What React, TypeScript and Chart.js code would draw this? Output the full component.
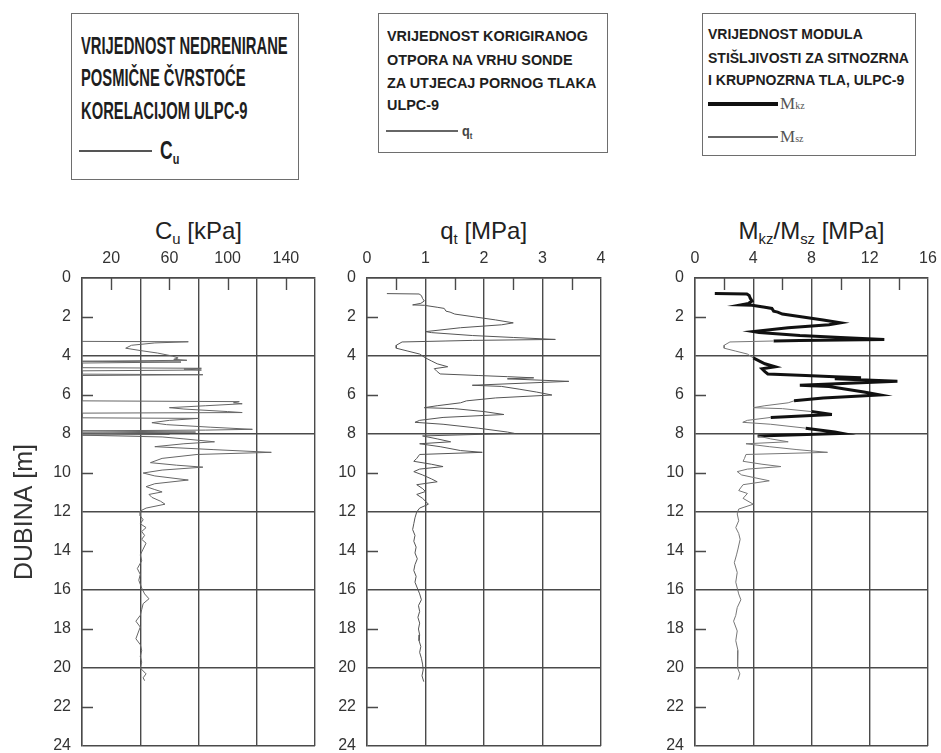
import React, { useEffect, useRef } from "react";
import { Chart, registerables } from "chart.js";

Chart.register(...registerables);

// ---------- DATA ----------
const depthLabels = [0, 2, 4, 6, 8, 10, 12, 14, 16, 18, 20, 22, 24];
const cuTickLabels = [20, 60, 100, 140];
const qtTickLabels = [0, 1, 2, 3, 4];
const mTickLabels = [0, 4, 8, 12, 16];

const cuDepth = [
  3.25, 3.27, 3.33, 3.45, 3.6, 3.72, 3.85, 4.0, 4.1, 4.17, 4.22, 4.27, 4.31, 4.36, 4.6, 4.63, 4.67, 4.72, 4.76,
  4.93, 4.96, 5.0, 6.3, 6.34, 6.4, 6.45, 6.55, 6.65, 6.72, 6.85, 6.9, 6.93, 7.17, 7.2, 7.3, 7.42, 7.52, 7.65,
  7.76, 7.8, 7.84, 7.9, 7.95, 8.02, 8.06, 8.15, 8.25, 8.4, 8.5, 8.65, 8.8, 8.94, 9.05, 9.25, 9.47, 9.6, 9.7,
  9.85, 10.0, 10.15, 10.36, 10.55, 10.7, 10.85, 10.97, 11.1, 11.25, 11.45, 11.6, 11.8, 11.95, 12.2, 12.4, 12.6,
  12.8, 13.0, 13.2, 13.4, 13.6, 13.9, 14.2, 14.5, 14.9, 15.2, 15.5, 15.9, 16.2, 16.45, 16.7, 17.0, 17.3, 17.6,
  17.9, 18.1, 18.5, 18.8, 19.1, 19.4, 19.7, 20.0, 20.3, 20.5, 20.65,
];
const cuValue = [
  0, 73, 50, 34, 30, 40, 52, 62, 66, 63, 72, 0, 68, 0, 0, 82, 70, 82, 0,
  0, 83, 0, 0, 108, 104, 110, 85, 60, 70, 100, 110, 0, 0, 80, 60, 48, 58, 88,
  117, 85, 0, 78, 0, 60, 0, 55, 70, 91, 70, 50, 90, 130, 79, 55, 47, 65, 83,
  55, 42, 50, 73, 50, 44, 50, 55, 46, 48, 54, 57, 44, 40, 40, 42, 40,
  44, 41, 43, 41, 44, 42, 40, 41, 38, 40, 39, 41, 43, 46, 42, 41, 40, 37,
  40, 39, 37, 40, 41, 40, 41, 40, 44, 42, 43,
];

const qtDepth = [
  0.8, 0.82, 0.9, 1.05, 1.18, 1.3, 1.38, 1.4, 1.5, 1.56, 1.7, 1.75, 1.85, 2.0, 2.15, 2.3, 2.4, 2.55, 2.75, 2.8,
  2.95, 3.05, 3.15, 3.2, 3.23, 3.28, 3.45, 3.6, 3.75, 3.9, 4.1, 4.25, 4.4, 4.55, 4.65, 4.8, 4.92, 5.0, 5.06,
  5.12, 5.17, 5.3, 5.5, 5.56, 5.7, 5.85, 6.0, 6.15, 6.3, 6.4, 6.55, 6.65, 6.7, 6.85, 7.0, 7.15, 7.3, 7.4, 7.5,
  7.7, 7.9, 7.97, 8.1, 8.25, 8.4, 8.5, 8.65, 8.85, 8.94, 9.05, 9.25, 9.4, 9.55, 9.67, 9.8, 9.93, 10.1, 10.3,
  10.45, 10.6, 10.8, 10.95, 11.1, 11.3, 11.45, 11.6, 11.8, 12.0, 12.3, 12.6, 12.9, 13.2, 13.5, 13.8, 14.1, 14.4,
  14.7, 15.0, 15.3, 15.6, 15.9, 16.2, 16.5, 16.8, 17.1, 17.4, 17.7, 18.0, 18.3, 18.6, 18.9, 19.2, 19.5, 19.8,
  20.1, 20.4, 20.7,
];
const qtValue = [
  0.34, 0.89, 0.93, 0.95, 0.98, 0.92, 0.78, 0.98, 1.2, 1.32, 1.35, 1.42, 1.5, 1.85, 2.2, 2.5, 2.3, 1.6, 1.0, 1.1,
  1.8, 2.5, 3.22, 1.8, 1.35, 0.6, 0.5, 0.5, 0.7, 0.9, 1.0, 1.1, 1.2, 1.38, 1.15, 1.2, 1.25, 1.9, 2.4,
  2.85, 2.4, 3.45, 1.8, 2.3, 2.6, 2.9, 3.16, 2.2, 1.7, 1.6, 1.2, 0.98, 1.5, 2.0, 2.34, 1.3, 0.9, 0.82, 1.3,
  1.9, 2.4, 2.52, 0.95, 1.2, 1.43, 0.9, 1.25, 1.6, 1.97, 0.9, 0.85, 0.8, 1.1, 1.3, 0.9, 0.8, 0.95, 1.1,
  1.2, 0.85, 0.95, 1.0, 0.85, 0.95, 1.0, 1.05, 0.9, 0.85, 0.82, 0.8, 0.78, 0.82, 0.8, 0.84, 0.82, 0.86,
  0.82, 0.8, 0.84, 0.82, 0.86, 0.9, 0.93, 0.88, 0.9, 0.87, 0.9, 0.88, 0.9, 0.89, 0.92, 0.9, 0.93, 0.95,
  0.96, 0.94, 0.97,
];

const mDepth = [
  0.8, 0.82, 0.9, 1.05, 1.18, 1.3, 1.38, 1.4, 1.5, 1.56, 1.7, 1.75, 1.85, 2.0, 2.15, 2.3, 2.4, 2.55, 2.75, 2.8,
  2.95, 3.05, 3.15, 3.2, 3.23, 3.28, 3.45, 3.6, 3.75, 3.9, 4.1, 4.25, 4.4, 4.55, 4.65, 4.8, 4.92, 5.0, 5.06,
  5.12, 5.17, 5.3, 5.5, 5.56, 5.7, 5.85, 6.0, 6.15, 6.3, 6.4, 6.55, 6.65, 6.7, 6.85, 7.0, 7.15, 7.3, 7.4, 7.5,
  7.7, 7.9, 7.97, 8.1, 8.25, 8.4, 8.5, 8.65, 8.8, 8.94, 9.05, 9.25, 9.4, 9.55, 9.67, 9.8, 9.93, 10.1, 10.4,
  10.6, 10.9, 11.05, 11.3, 11.6, 11.85, 12.1, 12.45, 12.8, 13.1, 13.4, 13.9, 14.2, 14.6, 15.1, 15.6, 15.9,
  16.2, 16.5, 16.9, 17.3, 17.6, 18.1, 18.6, 19.1, 19.6, 20.0, 20.3, 20.6,
];
const mkzValue = [
  1.36, 3.56, 3.72, 3.8, 3.92, 3.68, 3.12, 3.92, 4.8, 5.28, 5.4, 5.68, 6.0, 7.4, 8.8, 10.0, 9.2, 6.4, 4.0, 4.4,
  7.2, 10.0, 13.0, 7.2, 5.4, null, null, null, null, null, 4.0, 4.4, 4.8, 5.5, 4.6, 4.8, 5.0, 7.6, 9.6,
  11.4, 9.6, 13.9, 7.2, 9.2, 10.4, 11.6, 12.7, 8.8, 6.8, null, null, null, null, 8.0, 9.4, 5.2, null, null, null,
  7.6, 9.6, 10.1, 4.3, null, null, null, null, null, null, null, null, null, null, null, null, null, null, null,
  null, null, null, null, null, null, null, null, null, null, null, null, null, null, null, null, null,
  null, null, null, null, null, null, null, null, null, null, null, null,
];
const mszValue = [
  null, null, null, null, null, null, null, null, null, null, null, null, null, null, null, null, null, null, null, null,
  null, null, null, null, 5.4, 2.4, 2.0, 2.0, 2.8, 3.6, 4.0, null, null, null, null, null, null, null, null,
  null, null, null, null, null, null, null, null, null, 6.8, 6.4, 4.8, 4.0, 6.0, 8.0, null, 5.2, 3.6, 3.28, 5.2,
  7.6, null, null, 4.3, 5.2, 6.4, 3.5, 5.1, 7.0, 9.1, 3.5, 3.4, 3.3, 4.6, 5.9, 3.6, 2.9, 3.2, 5.1,
  3.3, 3.0, 3.6, 3.3, 4.0, 3.0, 2.9, 3.0, 2.8, 3.0, 3.1, 2.95, 2.85, 2.7, 2.9, 2.8, 2.9,
  3.0, 3.15, 2.9, 2.8, 2.65, 2.9, 2.8, 2.95, 2.9, 2.95, 3.08, 2.95,
];

// ---------- STYLE ----------
const GRID = "#4a4a4a";
const FONT = "'Liberation Sans', Arial, sans-serif";
const TICK_COLOR = "#333";
const near = (a: number, b: number) => Math.abs(a - b) < 1e-6;
const isMultiple = (v: number, step: number) => near(v / step, Math.round(v / step));

const minorTickPlugin = {
  id: "minorTicks",
  afterDatasetsDraw(chart: any, _args: any, opts: any) {
    const { ctx, chartArea, scales } = chart;
    ctx.save();
    ctx.strokeStyle = GRID;
    ctx.lineWidth = 1.4;
    ctx.beginPath();
    for (const v of opts.x || []) {
      const px = Math.round(scales.x.getPixelForValue(v)) + 0.5;
      ctx.moveTo(px, chartArea.top);
      ctx.lineTo(px, chartArea.top + 12);
    }
    for (const v of opts.y || []) {
      const py = Math.round(scales.y.getPixelForValue(v)) + 0.5;
      ctx.moveTo(chartArea.left, py);
      ctx.lineTo(chartArea.left + 11, py);
    }
    ctx.stroke();
    ctx.restore();
  },
};

type PanelProps = {
  left: number;
  width: number;
  yWidth: number;
  padRight: number;
  xMax: number;
  xStep: number;
  gridStep: number;
  xLabels: number[];
  datasets: any[];
  yTitle?: string;
};

const CANVAS_TOP = 200;
const CANVAS_H = 553;

function Panel(p: PanelProps) {
  const ref = useRef<HTMLCanvasElement>(null);
  useEffect(() => {
    const minorX: number[] = [];
    for (let v = 0; v <= p.xMax + 1e-9; v += p.xStep) if (!isMultiple(v, p.gridStep)) minorX.push(v);
    const minorY = depthLabels.filter((v) => !isMultiple(v, 4));
    const chart = new Chart(ref.current as HTMLCanvasElement, {
      type: "scatter",
      data: { datasets: p.datasets },
      options: {
        animation: false,
        responsive: false,
        events: [],
        layout: { padding: { left: 0, right: p.padRight, top: 0, bottom: 7 } },
        plugins: {
          legend: { display: false },
          tooltip: { enabled: false },
          minorTicks: { x: minorX, y: minorY },
        } as any,
        scales: {
          x: {
            type: "linear",
            position: "top",
            min: 0,
            max: p.xMax,
            ticks: {
              stepSize: p.xStep,
              autoSkip: false,
              maxRotation: 0,
              padding: 10,
              color: TICK_COLOR,
              font: { family: FONT, size: 16 },
              callback: (v: any) => (p.xLabels.some((l) => near(l, Number(v))) ? String(v) : ""),
            },
            grid: {
              drawTicks: false,
              lineWidth: 1.4,
              color: (c: any) => (c.tick && isMultiple(c.tick.value, p.gridStep) ? GRID : "rgba(0,0,0,0)"),
            },
            border: { display: true, color: GRID, width: 1.4 },
            afterFit: (s: any) => {
              s.height = 78;
              s.paddingLeft = 0;
              s.paddingRight = 0;
            },
          },
          y: {
            type: "linear",
            reverse: true,
            min: 0,
            max: 24,
            ticks: {
              stepSize: 2,
              autoSkip: false,
              padding: 11,
              color: TICK_COLOR,
              font: { family: FONT, size: 16 },
              callback: (v: any) => (depthLabels.some((l) => near(l, Number(v))) ? String(v) : ""),
            },
            grid: {
              drawTicks: false,
              lineWidth: 1.4,
              color: (c: any) => (c.tick && isMultiple(c.tick.value, 4) ? GRID : "rgba(0,0,0,0)"),
            },
            border: { display: true, color: GRID, width: 1.4 },
            title: p.yTitle
              ? {
                  display: true,
                  text: p.yTitle,
                  color: "#333",
                  font: { family: FONT, size: 25, lineHeight: 1.2 },
                  padding: { top: 10, bottom: 0 },
                }
              : { display: false },
            afterFit: (s: any) => {
              s.width = p.yWidth;
              s.paddingTop = 0;
              s.paddingBottom = 0;
            },
          },
        },
      } as any,
      plugins: [minorTickPlugin as any],
    });
    return () => chart.destroy();
  }, []);
  return (
    <canvas
      ref={ref}
      width={p.width}
      height={CANVAS_H}
      style={{ position: "absolute", left: p.left, top: CANVAS_TOP, width: p.width, height: CANVAS_H }}
    />
  );
}

const toPoints = (depth: number[], vals: (number | null)[]) => depth.map((d, i) => ({ x: vals[i], y: d }));

const lineDs = (data: any[], color: string, width: number) => ({
  data,
  showLine: true,
  borderColor: color,
  borderWidth: width,
  pointRadius: 0,
  tension: 0,
  spanGaps: false,
  fill: false,
});

const sub: React.CSSProperties = { fontSize: "0.62em", position: "relative", top: "0.35em" };

function Title({ cx, children }: { cx: number; children: React.ReactNode }) {
  return (
    <div
      style={{
        position: "absolute",
        left: cx - 150,
        width: 300,
        top: 217,
        lineHeight: "28px",
        textAlign: "center",
        fontFamily: FONT,
        fontSize: 24,
        color: "#222",
        whiteSpace: "nowrap",
      }}
    >
      {children}
    </div>
  );
}

function TextLine({ x, y, size, scale, children }: { x: number; y: number; size: number; scale: number; children: React.ReactNode }) {
  return (
    <div
      style={{
        position: "absolute",
        left: x,
        top: y - size * 0.49,
        fontFamily: FONT,
        fontWeight: 700,
        fontSize: size,
        lineHeight: `${size}px`,
        color: "#1e1e1e",
        whiteSpace: "nowrap",
        transform: `scaleX(${scale})`,
        transformOrigin: "left center",
      }}
    >
      {children}
    </div>
  );
}

function Box({ left, top, width, height, children }: any) {
  return (
    <div
      style={{
        position: "absolute",
        left,
        top,
        width,
        height,
        boxSizing: "border-box",
        border: "1.5px solid #6e6e6e",
        background: "#fff",
      }}
    >
      {children}
    </div>
  );
}

function Sample({ x, y, w, h, color }: { x: number; y: number; w: number; h: number; color: string }) {
  return <div style={{ position: "absolute", left: x, top: y - h / 2, width: w, height: h, background: color }} />;
}

export default function App() {
  const cuSets = [lineDs(toPoints(cuDepth, cuValue), "#666", 1)];
  const qtSets = [lineDs(toPoints(qtDepth, qtValue), "#555", 1)];
  const mSets = [lineDs(toPoints(mDepth, mszValue), "#777", 1), lineDs(toPoints(mDepth, mkzValue), "#111", 3)];

  return (
    <div style={{ position: "absolute", left: 0, top: 0, width: 941, height: 753, background: "#fff", overflow: "hidden" }}>
      {/* Legend boxes */}
      <Box left={71} top={13} width={228} height={167}>
        <TextLine x={9} y={32} size={24} scale={0.615}>VRIJEDNOST NEDRENIRANE</TextLine>
        <TextLine x={9} y={64} size={24} scale={0.615}>POSMIČNE ČVRSTOĆE</TextLine>
        <TextLine x={9} y={97} size={24} scale={0.615}>KORELACIJOM ULPC-9</TextLine>
        <Sample x={7} y={137} w={73} h={1.2} color="#555" />
        <TextLine x={88} y={136} size={25} scale={0.7}>
          C<span style={sub}>u</span>
        </TextLine>
      </Box>
      <Box left={378} top={13} width={230} height={140}>
        <TextLine x={8} y={22} size={15.5} scale={0.93}>VRIJEDNOST KORIGIRANOG</TextLine>
        <TextLine x={8} y={45.5} size={15.5} scale={0.93}>OTPORA NA VRHU SONDE</TextLine>
        <TextLine x={8} y={68.5} size={15.5} scale={0.93}>ZA UTJECAJ PORNOG TLAKA</TextLine>
        <TextLine x={8} y={91} size={15.5} scale={0.93}>ULPC-9</TextLine>
        <Sample x={7} y={117} w={72} h={1.2} color="#666" />
        <TextLine x={83} y={116} size={15} scale={0.85}>
          <span style={{ color: "#444" }}>
            q<span style={sub}>t</span>
          </span>
        </TextLine>
      </Box>
      <Box left={702} top={13} width={214} height={143}>
        <TextLine x={5} y={20.3} size={14} scale={1}>VRIJEDNOST MODULA</TextLine>
        <TextLine x={5} y={43.7} size={14} scale={1}>STIŠLJIVOSTI ZA SITNOZRNA</TextLine>
        <TextLine x={5} y={66} size={14} scale={1}>I KRUPNOZRNA TLA, ULPC-9</TextLine>
        <Sample x={5} y={90} w={70} h={4} color="#111" />
        <div style={{ position: "absolute", left: 77, top: 80, fontFamily: "'Liberation Serif', serif", fontSize: 17, color: "#555", lineHeight: "20px" }}>
          M<span style={{ fontSize: 10 }}>kz</span>
        </div>
        <Sample x={5} y={123} w={70} h={1.2} color="#666" />
        <div style={{ position: "absolute", left: 77, top: 113, fontFamily: "'Liberation Serif', serif", fontSize: 17, color: "#555", lineHeight: "20px" }}>
          M<span style={{ fontSize: 10 }}>sz</span>
        </div>
      </Box>

      {/* Axis titles */}
      <Title cx={198.5}>
        C<span style={sub}>u</span> [kPa]
      </Title>
      <Title cx={483.7}>
        q<span style={sub}>t</span> [MPa]
      </Title>
      <Title cx={811.5}>
        M<span style={sub}>kz</span>/M<span style={sub}>sz</span> [MPa]
      </Title>

      {/* Panels */}
      <Panel left={0} width={330} yWidth={82} padRight={15} xMax={160} xStep={20} gridStep={40} xLabels={cuTickLabels} datasets={cuSets} yTitle="DUBINA [m]" />
      <Panel left={330} width={290} yWidth={37} padRight={19} xMax={4} xStep={0.5} gridStep={1} xLabels={qtTickLabels} datasets={qtSets} />
      <Panel left={660} width={281} yWidth={35} padRight={13} xMax={16} xStep={2} gridStep={4} xLabels={mTickLabels} datasets={mSets} />
    </div>
  );
}
